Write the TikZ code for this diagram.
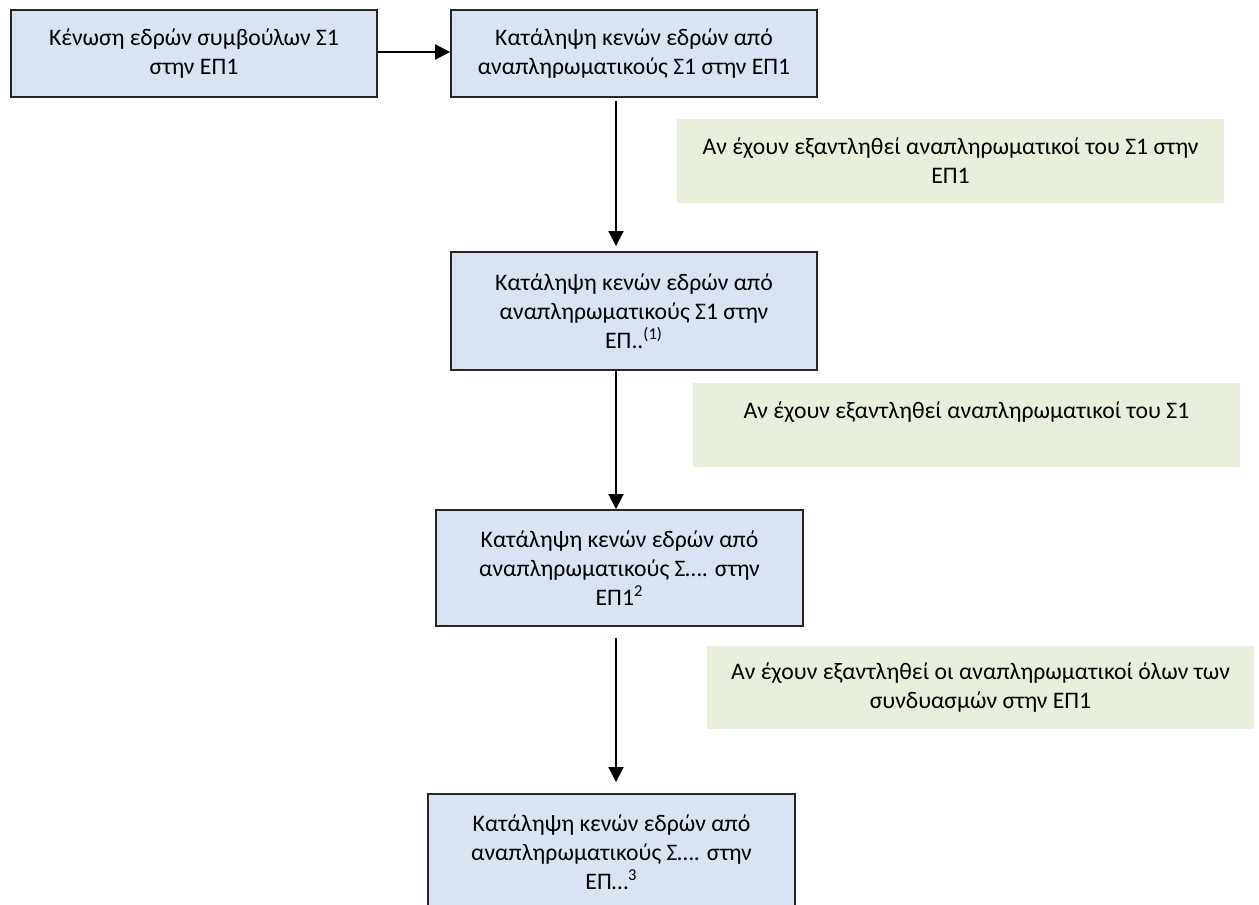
\documentclass[tikz,border=0pt]{standalone}
\usepackage{fontspec}
\setmainfont{Carlito}
\usepackage{xcolor}
\usetikzlibrary{arrows.meta}
\definecolor{boxblue}{HTML}{DAE3F1}
\definecolor{notegreen}{HTML}{E9EFDD}
\tikzset{
	stepbox/.style={
			draw=black!85, line width=1.1pt, fill=boxblue, align=center,
			minimum width=7.32cm, inner sep=0pt
		},
	notebox/.style={
			fill=notegreen, draw=none, align=center,
			minimum width=10.94cm, minimum height=1.68cm, inner sep=0pt
		},
	flow/.style={-{Triangle[length=0.3cm,width=0.3cm]}, line width=1.1pt}
}

\begin{document}
\begin{tikzpicture}[x=0.02cm, y=-0.02cm, font=\fontsize{13.5}{16.5}\selectfont]

			\useasboundingbox (0,0) rectangle (1259,905);

			% Draw the boxes of the steps
			\node[stepbox, minimum height=1.74cm] (vacancy) at (194,53.5) {Κένωση εδρών συμβούλων Σ1\\στην ΕΠ1};
			\node[stepbox, minimum height=1.74cm] (fillOne) at (634,53.5) {Κατάληψη κενών εδρών από\\αναπληρωματικούς Σ1 στην ΕΠ1};
			\node[stepbox, minimum height=2.36cm] (fillTwo) at (634,311) {Κατάληψη κενών εδρών από\\αναπληρωματικούς Σ1 στην\\ΕΠ..\textsuperscript{(1)}};
			\node[stepbox, minimum width=7.34cm, minimum height=2.32cm] (fillThree) at (619.5,568) {Κατάληψη κενών εδρών από\\αναπληρωματικούς Σ…. στην\\ΕΠ1\textsuperscript{2}};
			\node[stepbox, minimum width=7.34cm, minimum height=2.32cm] (fillFour) at (611.5,852) {Κατάληψη κενών εδρών από\\αναπληρωματικούς Σ…. στην\\ΕΠ…\textsuperscript{3}};

			% Draw the conditions
			\node[notebox] (condOne) at (950.5,161) {Αν έχουν εξαντληθεί αναπληρωματικοί του Σ1 στην\\ΕΠ1};
			\node[notebox] (condTwo) at (966.5,425) {Αν έχουν εξαντληθεί αναπληρωματικοί του Σ1\\\mbox{}};
			\node[notebox] (condThree) at (980.5,687.5) {Αν έχουν εξαντληθεί οι αναπληρωματικοί όλων των\\συνδυασμών στην ΕΠ1};

			% Draw the arrows
			\coordinate (spine) at (616,0);
			\draw[flow] (vacancy.east |- 0,52) -- (fillOne.west |- 0,52);
			\draw[flow, shorten <=0.06cm, shorten >=0.1cm] (fillOne.south -| spine) -- (fillTwo.north -| spine);
			\draw[flow] (fillTwo.south -| spine) -- (fillThree.north -| spine);
			\draw[flow, shorten <=0.22cm, shorten >=0.22cm] (fillThree.south -| spine) -- (fillFour.north -| spine);

		\end{tikzpicture}
\end{document}
